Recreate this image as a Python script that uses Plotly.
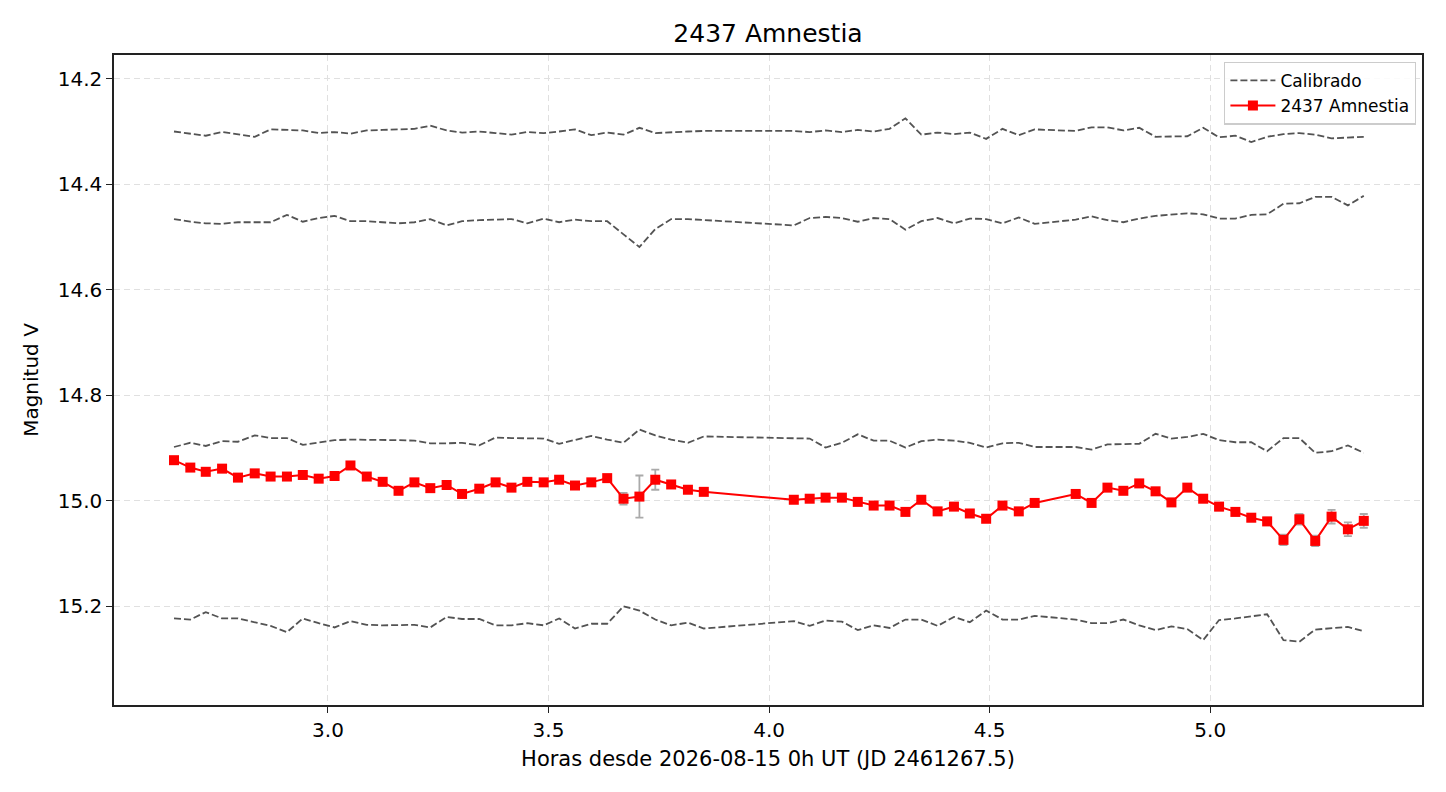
import plotly.graph_objs as go

# Horas desde 2026-08-15 0h UT
horas = [2.651, 2.688, 2.723, 2.760, 2.796, 2.834, 2.870, 2.907, 2.943, 2.979,
         3.015, 3.051, 3.088, 3.124, 3.160, 3.196, 3.232, 3.269, 3.304, 3.343,
         3.380, 3.416, 3.452, 3.489, 3.524, 3.560, 3.597, 3.633, 3.670, 3.706,
         3.742, 3.778, 3.816, 3.852,
         4.056, 4.092, 4.128, 4.165, 4.201, 4.237, 4.273, 4.309, 4.345, 4.382,
         4.419, 4.455, 4.492, 4.529, 4.566, 4.602,
         4.695, 4.731, 4.767, 4.803, 4.839, 4.876, 4.912, 4.948, 4.984, 5.020,
         5.057, 5.093, 5.129, 5.166, 5.202, 5.238, 5.275, 5.312, 5.348]

# Magnitud del asteroide y su error
mag_obj = [14.923, 14.937, 14.945, 14.939, 14.956, 14.948, 14.954, 14.954, 14.951, 14.958,
           14.953, 14.933, 14.954, 14.964, 14.981, 14.965, 14.976, 14.970, 14.987, 14.977,
           14.965, 14.975, 14.964, 14.965, 14.960, 14.971, 14.965, 14.957, 14.996, 14.992,
           14.960, 14.969, 14.979, 14.983,
           14.998, 14.996, 14.994, 14.994, 15.002, 15.009, 15.009, 15.021, 14.998, 15.020,
           15.011, 15.024, 15.034, 15.009, 15.020, 15.004,
           14.987, 15.004, 14.975, 14.981, 14.967, 14.982, 15.003, 14.975, 14.996, 15.011,
           15.021, 15.032, 15.039, 15.074, 15.035, 15.076, 15.030, 15.054, 15.038]
err_obj = [0.005, 0.005, 0.005, 0.005, 0.005, 0.005, 0.005, 0.005, 0.005, 0.005,
           0.005, 0.005, 0.005, 0.005, 0.005, 0.005, 0.005, 0.005, 0.005, 0.005,
           0.005, 0.005, 0.005, 0.005, 0.005, 0.005, 0.005, 0.005, 0.011, 0.040,
           0.019, 0.005, 0.005, 0.005,
           0.005, 0.005, 0.005, 0.005, 0.005, 0.005, 0.005, 0.005, 0.005, 0.005,
           0.005, 0.005, 0.005, 0.005, 0.005, 0.005,
           0.005, 0.005, 0.005, 0.005, 0.005, 0.005, 0.005, 0.005, 0.006, 0.007,
           0.007, 0.007, 0.007, 0.010, 0.010, 0.010, 0.013, 0.013, 0.013]

# Estrellas de calibracion
cal_1 = [14.300, 14.304, 14.308, 14.301, 14.305, 14.310, 14.296, 14.297, 14.298, 14.303,
         14.301, 14.304, 14.298, 14.297, 14.296, 14.295, 14.289, 14.298, 14.302, 14.300,
         14.303, 14.306, 14.301, 14.303, 14.300, 14.296, 14.307, 14.302, 14.306, 14.293,
         14.303, 14.301, 14.300, 14.299,
         14.299, 14.301, 14.298, 14.301, 14.297, 14.300, 14.295, 14.275, 14.306, 14.302,
         14.305, 14.302, 14.314, 14.295, 14.307, 14.296,
         14.299, 14.292, 14.292, 14.298, 14.293, 14.310, 14.310, 14.309, 14.293, 14.311,
         14.308, 14.320, 14.310, 14.305, 14.303, 14.306, 14.313, 14.311, 14.310]
cal_2 = [14.466, 14.471, 14.474, 14.475, 14.472, 14.472, 14.472, 14.458, 14.471, 14.464,
         14.460, 14.470, 14.470, 14.472, 14.474, 14.472, 14.466, 14.478, 14.470, 14.468,
         14.467, 14.466, 14.474, 14.465, 14.472, 14.467, 14.470, 14.470, 14.495, 14.519,
         14.485, 14.466, 14.466, 14.468,
         14.478, 14.464, 14.462, 14.464, 14.471, 14.464, 14.466, 14.486, 14.470, 14.464,
         14.474, 14.465, 14.466, 14.474, 14.463, 14.475,
         14.467, 14.461, 14.468, 14.472, 14.465, 14.460, 14.458, 14.455, 14.457, 14.465,
         14.465, 14.458, 14.457, 14.437, 14.436, 14.424, 14.424, 14.440, 14.422]
cal_3 = [14.898, 14.890, 14.896, 14.887, 14.888, 14.876, 14.881, 14.881, 14.894, 14.889,
         14.885, 14.884, 14.884, 14.884, 14.885, 14.886, 14.891, 14.891, 14.890, 14.895,
         14.880, 14.881, 14.882, 14.882, 14.892, 14.884, 14.877, 14.884, 14.890, 14.865,
         14.876, 14.884, 14.890, 14.878,
         14.881, 14.882, 14.899, 14.890, 14.874, 14.886, 14.886, 14.899, 14.887, 14.884,
         14.886, 14.890, 14.899, 14.891, 14.890, 14.898,
         14.898, 14.903, 14.893, 14.892, 14.892, 14.873, 14.882, 14.879, 14.873, 14.885,
         14.889, 14.889, 14.906, 14.881, 14.881, 14.909, 14.906, 14.895, 14.909]
cal_4 = [15.223, 15.225, 15.211, 15.223, 15.223, 15.230, 15.237, 15.249, 15.223, 15.232,
         15.240, 15.228, 15.235, 15.236, 15.235, 15.235, 15.240, 15.220, 15.224, 15.224,
         15.236, 15.236, 15.232, 15.236, 15.223, 15.242, 15.233, 15.233, 15.200, 15.208,
         15.225, 15.236, 15.231, 15.242,
         15.228, 15.237, 15.227, 15.229, 15.245, 15.236, 15.241, 15.225, 15.225, 15.237,
         15.220, 15.230, 15.208, 15.225, 15.225, 15.218,
         15.225, 15.232, 15.232, 15.225, 15.236, 15.245, 15.238, 15.243, 15.264, 15.226,
         15.223, 15.219, 15.215, 15.264, 15.267, 15.244, 15.242, 15.239, 15.247]

x_ticks = [3.0, 3.5, 4.0, 4.5, 5.0]
y_ticks = [14.2, 14.4, 14.6, 14.8, 15.0, 15.2]

plot_data = []
for i, cal in enumerate([cal_1, cal_2, cal_3, cal_4]):
    plot_data.append(go.Scatter(
        x=horas, y=cal, mode='lines', name='Calibrado',
        line=dict(color='rgba(40,40,40,0.8)', width=1.8, dash='7px,3px'),
        showlegend=(i == 0), legendrank=1
    ))

plot_data.append(go.Scatter(
    x=horas, y=mag_obj, mode='lines+markers', name='2437 Amnestia',
    line=dict(color='red', width=2.0),
    marker=dict(symbol='square', size=10, color='red'),
    error_y=dict(type='data', array=err_obj, color='#aaaaaa', thickness=1.8, width=4),
    legendrank=2
))

font = 'DejaVu Sans'
axis_common = dict(
    showline=True, mirror=True, linecolor='#222222', linewidth=1.5,
    ticks='outside', ticklen=6, tickwidth=1.3, tickcolor='#222222',
    showgrid=True, gridcolor='#e0e0e0', gridwidth=1.3, griddash='6px,4px',
    zeroline=False, tickfont=dict(size=20, color='black', family=font),
)

# la pagina deja 8px de margen alrededor de la figura
plot_layout = go.Layout(
    width=1430, height=776,
    paper_bgcolor='white', plot_bgcolor='white',
    margin=dict(l=106, r=16, t=47, b=79),
    font=dict(family=font, color='black'),
    title=dict(text='2437 Amnestia', xref='paper', x=0.5, xanchor='center',
               yref='container', y=0.968, yanchor='middle',
               font=dict(size=25, family=font, color='black')),
    xaxis=dict(range=[2.515, 5.480], tickvals=x_ticks, tickformat='.1f',
               title=dict(text='Horas desde 2026-08-15 0h UT (JD 2461267.5)',
                          font=dict(size=21, family=font), standoff=11),
               **axis_common),
    yaxis=dict(range=[15.387, 14.155], tickvals=y_ticks, tickformat='.1f',
               title=dict(text='Magnitud V', font=dict(size=20, family=font), standoff=14),
               **axis_common),
    legend=dict(x=0.9955, y=0.99, xanchor='right', yanchor='top',
                bgcolor='rgba(255,255,255,0.85)', bordercolor='#cccccc', borderwidth=1.3,
                font=dict(size=17, family=font, color='black'),
                tracegroupgap=3, itemwidth=45),
)

fig = go.Figure(data=plot_data, layout=plot_layout)
fig.write_html("out.html")
